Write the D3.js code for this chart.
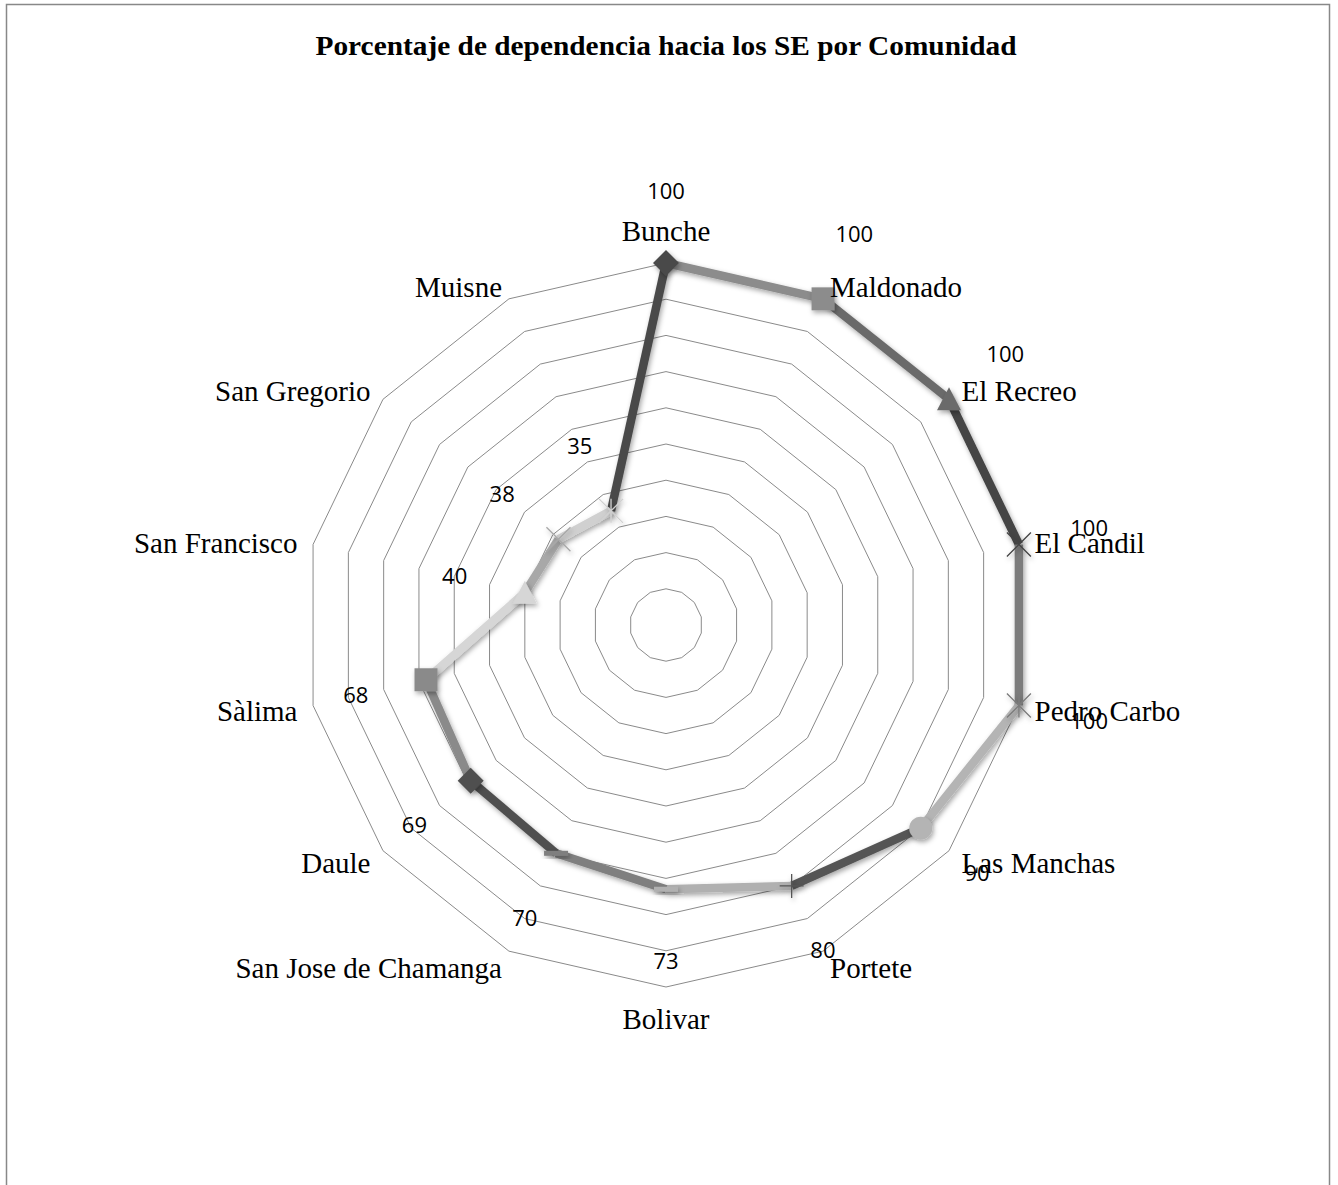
<!DOCTYPE html>
<html>
<head>
<meta charset="utf-8">
<script src="https://cdn.jsdelivr.net/npm/d3@7"></script>
<style>
  body { margin: 0; background: #fff; }
  svg { display: block; }
</style>
</head>
<body>
<script>
var width = 1338,
    height = 1185;

// chart data
var categories = ["Bunche", "Maldonado", "El Recreo", "El Candil", "Pedro Carbo", "Las Manchas", "Portete",
                  "Bolivar", "San Jose de Chamanga", "Daule", "Sàlima", "San Francisco", "San Gregorio", "Muisne"];
var values = [100, 100, 100, 100, 100, 90, 80, 73, 70, 69, 68, 40, 38, 35];
var pointColors = ["#4a4a4a", "#8c8c8c", "#6b6b6b", "#444444", "#7b7b7b", "#b4b4b4", "#555555",
                   "#b0b0b0", "#7f7f7f", "#4f4f4f", "#8a8a8a", "#d6d6d6", "#a8a8a8", "#d0d0d0"];
var markerTypes = ["diamond", "square", "triangle", "x", "star", "circle", "plus",
                   "dash", "longdash", "diamond", "square", "triangle", "x", "star"];
var gridLevels = [10, 20, 30, 40, 50, 60, 70, 80, 90, 100];
var title = "Porcentaje de dependencia hacia los SE por Comunidad";

var cx = 666, cy = 625;

var svg = d3.select("body")
    .append("svg")
    .attr("width", width)
    .attr("height", height);

var defs = svg.append("defs");
var shadow = defs.append("filter")
    .attr("id", "shadow")
    .attr("x", "-50%").attr("y", "-50%")
    .attr("width", "200%").attr("height", "200%");
shadow.append("feDropShadow")
    .attr("dx", 1.5).attr("dy", 2.5)
    .attr("stdDeviation", 2.5)
    .attr("flood-color", "#000")
    .attr("flood-opacity", 0.35);

// chart border
svg.append("rect")
    .attr("x", 6.5).attr("y", 4.5)
    .attr("width", 1323).attr("height", 1250)
    .attr("fill", "#fff")
    .attr("stroke", "#888")
    .attr("stroke-width", 1.5);

svg.append("text")
    .attr("x", cx)
    .attr("y", 55)
    .attr("text-anchor", "middle")
    .attr("textLength", 701)
    .attr("lengthAdjust", "spacingAndGlyphs")
    .style("font-family", "'Liberation Serif', 'Times New Roman', serif")
    .style("font-weight", "bold")
    .style("font-size", "28px")
    .text(title);

var rScale = d3.scaleLinear().domain([0, 100]).range([0, 362]);
var aScale = d3.scaleLinear().domain([0, categories.length]).range([0, 2 * Math.PI]);

var chart = svg.append("g")
    .attr("transform", "translate(" + cx + "," + cy + ")");

// grid rings
var ring = d3.lineRadial()
    .angle(function (d, i) { return aScale(i); })
    .radius(function (d) { return rScale(d); })
    .curve(d3.curveLinearClosed);

chart.append("g")
    .selectAll("path")
    .data(gridLevels)
    .enter().append("path")
    .attr("d", function (lvl) { return ring(categories.map(function () { return lvl; })); })
    .attr("fill", "none")
    .attr("stroke", "#8a8a8a")
    .attr("stroke-width", 1);

function pos(i, r) {
    var a = aScale(i);
    return [r * Math.sin(a), -r * Math.cos(a)];
}

// segments, each coloured like the point it ends at
var n = categories.length;
var segments = values.map(function (v, i) {
    var prev = (i - 1 + n) % n;
    return { from: prev, to: i };
});

chart.append("g")
    .attr("filter", "url(#shadow)")
    .selectAll("line")
    .data(segments)
    .enter().append("line")
    .attr("x1", function (d) { return pos(d.from, rScale(values[d.from]))[0]; })
    .attr("y1", function (d) { return pos(d.from, rScale(values[d.from]))[1]; })
    .attr("x2", function (d) { return pos(d.to, rScale(values[d.to]))[0]; })
    .attr("y2", function (d) { return pos(d.to, rScale(values[d.to]))[1]; })
    .attr("stroke", function (d) { return pointColors[d.to]; })
    .attr("stroke-width", 8.5)
    .attr("stroke-linecap", "butt");

// marker shapes
var s = 12;
var shapes = {
    diamond: { fill: true, draw: function (c) { c.moveTo(0, -s - 1); c.lineTo(s + 1, 0); c.lineTo(0, s + 1); c.lineTo(-s - 1, 0); c.closePath(); } },
    square: { fill: true, draw: function (c) { c.rect(-s + 0.5, -s + 0.5, 2 * s - 1, 2 * s - 1); } },
    triangle: { fill: true, draw: function (c) { c.moveTo(0, -s); c.lineTo(s, s - 1); c.lineTo(-s, s - 1); c.closePath(); } },
    circle: { fill: true, draw: function (c) { c.moveTo(s - 0.5, 0); c.arc(0, 0, s - 0.5, 0, 2 * Math.PI); } },
    x: { fill: false, draw: function (c) { c.moveTo(-s, -s); c.lineTo(s, s); c.moveTo(s, -s); c.lineTo(-s, s); } },
    star: { fill: false, draw: function (c) { c.moveTo(-s, -s); c.lineTo(s, s); c.moveTo(s, -s); c.lineTo(-s, s); c.moveTo(0, -s); c.lineTo(0, s); } },
    plus: { fill: false, draw: function (c) { c.moveTo(-s, 0); c.lineTo(s, 0); c.moveTo(0, -s); c.lineTo(0, s); } },
    dash: { fill: true, draw: function (c) { c.rect(-s, -2.5, 2 * s, 5); } },
    longdash: { fill: true, draw: function (c) { c.rect(-s, -2.5, 2 * s, 5); } }
};

chart.append("g")
    .selectAll("path")
    .data(values)
    .enter().append("path")
    .attr("filter", "url(#shadow)")
    .attr("transform", function (d, i) {
        var p = pos(i, rScale(d));
        return "translate(" + p[0] + "," + p[1] + ")";
    })
    .attr("d", function (d, i) {
        var shape = shapes[markerTypes[i]];
        return d3.symbol().type({ draw: shape.draw })();
    })
    .attr("fill", function (d, i) { return shapes[markerTypes[i]].fill ? pointColors[i] : "none"; })
    .attr("stroke", function (d, i) { return shapes[markerTypes[i]].fill ? "none" : pointColors[i]; })
    .attr("stroke-width", 1.3);

// category labels
chart.append("g")
    .selectAll("text")
    .data(categories)
    .enter().append("text")
    .attr("x", function (d, i) { return pos(i, 378)[0]; })
    .attr("y", function (d, i) {
        var a = aScale(i);
        if (Math.abs(Math.sin(a)) < 0.01) return pos(i, 394)[1];
        return pos(i, 378)[1] + 2;
    })
    .attr("dy", "0.35em")
    .attr("text-anchor", function (d, i) {
        var sn = Math.sin(aScale(i));
        return sn > 0.01 ? "start" : (sn < -0.01 ? "end" : "middle");
    })
    .style("font-family", "'Liberation Serif', 'Times New Roman', serif")
    .style("font-size", "29px")
    .style("fill", "#000")
    .text(function (d) { return d; });

// data labels
chart.append("g")
    .selectAll("text")
    .data(values)
    .enter().append("text")
    .attr("x", function (d, i) { return pos(i, rScale(d) + 72)[0]; })
    .attr("y", function (d, i) { return pos(i, rScale(d) + 72)[1]; })
    .attr("dy", "0.35em")
    .attr("text-anchor", "middle")
    .style("font-family", "'Open Sans', sans-serif")
    .style("font-size", "22px")
    .style("fill", "#000")
    .text(function (d) { return d; });
</script>
</body>
</html>
